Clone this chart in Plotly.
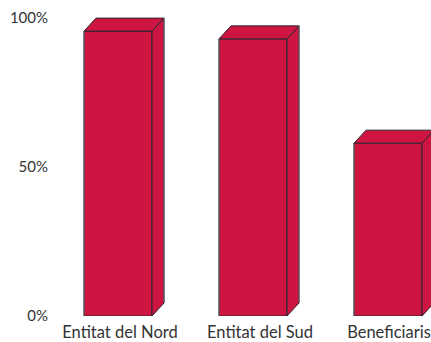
import plotly.graph_objects as go

categories = ["Entitat del Nord", "Entitat del Sud", "Beneficiaris"]
values = [95.6, 93, 58]
y_ticks = [0, 50, 100]
y_tick_labels = ["0%", "50%", "100%"]

FILL = "#CE1440"
EDGE = "#2B2730"
GREY = "#66656A"
W, H = 431, 342
LEFT, BOTTOM = 49, 26
PX_PER_CAT = 135.0
PX_PER_VAL = 2.98
BAR_PX = 68
DX = 12 / PX_PER_CAT
DY = 13 / PX_PER_VAL
HALF = BAR_PX / PX_PER_CAT / 2
LABEL_SHIFT = [2 / PX_PER_CAT, 7 / PX_PER_CAT, 1 / PX_PER_CAT]

fig = go.Figure()
xs = list(range(len(categories)))
fig.add_trace(go.Bar(x=xs, y=values, width=2 * HALF, marker=dict(color=FILL, line=dict(color=EDGE, width=1)),
                     hoverinfo="skip"))

for x, v in zip(xs, values):
    l, r = x - HALF, x + HALF
    # side face
    fig.add_trace(go.Scatter(x=[r, r + DX, r + DX, r, r], y=[0, DY, v + DY, v, 0], mode="lines", fill="toself",
                             fillcolor=FILL, line=dict(color=EDGE, width=1), hoverinfo="skip"))
    # top face
    fig.add_trace(go.Scatter(x=[l, l + DX, r + DX, r, l], y=[v, v + DY, v + DY, v, v], mode="lines", fill="toself",
                             fillcolor=FILL, line=dict(color=EDGE, width=1), hoverinfo="skip"))
    # lighter outer edges
    fig.add_trace(go.Scatter(x=[l, l], y=[0, v], mode="lines", line=dict(color=GREY, width=1), hoverinfo="skip"))
    fig.add_trace(go.Scatter(x=[r + DX, r + DX], y=[DY, v + DY], mode="lines", line=dict(color=GREY, width=1),
                             hoverinfo="skip"))

x0 = -(118 - LEFT) / PX_PER_CAT
x1 = (W - 118) / PX_PER_CAT
y1 = 316 / PX_PER_VAL
fig.update_layout(
    width=W, height=H, margin=dict(l=LEFT, r=0, t=0, b=BOTTOM, pad=0),
    paper_bgcolor="white", plot_bgcolor="white", showlegend=False, barmode="overlay",
    xaxis=dict(range=[x0, x1], tickvals=[x + s for x, s in zip(xs, LABEL_SHIFT)], ticktext=categories,
               showgrid=False, zeroline=False, showline=False, ticks="", ticklabelstandoff=4,
               tickfont=dict(family="Lato", size=16.5, color="#333333")),
    yaxis=dict(range=[0, y1], tickvals=y_ticks, ticktext=y_tick_labels, showgrid=False, zeroline=False,
               showline=False, ticks="", tickfont=dict(family="Lato", size=15, color="#333333")),
)
fig.write_html("out.html", config=dict(displayModeBar=False),
               post_script="document.body.style.margin='0';document.documentElement.style.overflow='hidden';")
